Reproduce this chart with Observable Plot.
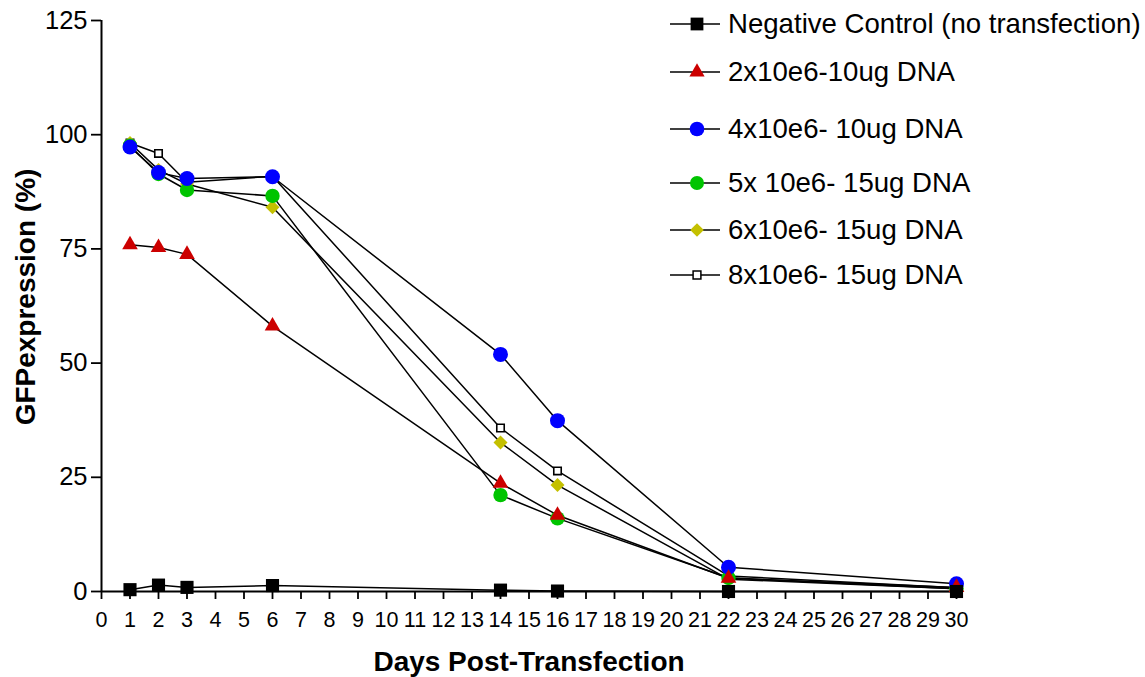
<!DOCTYPE html>
<html>
<head>
<meta charset="utf-8">
<script src="https://cdn.jsdelivr.net/npm/d3@7"></script>
<script src="https://cdn.jsdelivr.net/npm/@observablehq/plot@0.6"></script>
<style>
  html, body { margin: 0; padding: 0; background: #fff; }
  #wrap { position: relative; width: 1145px; height: 677px; font-family: "Liberation Sans", Arial, sans-serif; }
  #legend { position: absolute; left: 668px; top: 0; }
  .row { position: absolute; left: 0; display: flex; align-items: center; white-space: nowrap; }
  .row span { font-size: 27.6px; margin-left: 6px; color: #000; }
</style>
</head>
<body>
<div id="wrap"><div id="legend"></div></div>
<script>
// ---- data ----
const days = [1, 2, 3, 6, 14, 16, 22, 30];
const seriesNames = [
  "Negative Control (no transfection)",
  "2x10e6-10ug DNA",
  "4x10e6- 10ug DNA",
  "5x 10e6- 15ug DNA",
  "6x10e6- 15ug DNA",
  "8x10e6- 15ug DNA"
];
const negControl = [0.4, 1.4, 0.9, 1.3, 0.3, 0.1, 0.0, 0.0];
const dna2x10 = [75.9, 75.3, 73.8, 58.1, 23.7, 16.7, 2.9, 0.9];
const dna4x10 = [97.3, 91.7, 90.4, 90.8, 51.9, 37.4, 5.3, 1.7];
const dna5x15 = [97.6, 91.4, 87.9, 86.6, 21.1, 16.0, 3.0, 0.6];
const dna6x15 = [98.2, 92.3, 89.2, 84.1, 32.6, 23.3, 2.7, 0.6];
const dna8x15 = [98.2, 95.9, 89.6, 90.9, 35.8, 26.4, 3.4, 0.8];
const seriesValues = [negControl, dna2x10, dna4x10, dna5x15, dna6x15, dna8x15];
const xTicks = [0,1,2,3,4,5,6,7,8,9,10,11,12,13,14,15,16,17,18,19,20,21,22,23,24,25,26,27,28,29,30];
const yTicks = [0, 25, 50, 75, 100, 125];

// ---- styles ----
const styles = [
  {symbol: "square",   fill: "#000000", stroke: "none",    r: 7.4},
  {symbol: "triangle", fill: "#cc0000", stroke: "none",    r: 5.8},
  {symbol: "circle",   fill: "#0000ff", stroke: "none",    r: 7.5},
  {symbol: "circle",   fill: "#00c400", stroke: "none",    r: 7.2},
  {symbol: "diamond2", fill: "#c4c000", stroke: "none",    r: 6.3},
  {symbol: "square",   fill: "#ffffff", stroke: "#000000", r: 4.2}
];

const rows = [];
seriesNames.forEach((name, i) => {
  days.forEach((d, j) => rows.push({series: name, idx: i, day: d, value: seriesValues[i][j]}));
});

const font = "Liberation Sans, Arial, sans-serif";
const order = [5, 4, 3, 2, 1, 0]; // drawing order (bottom to top)

const marks = [];
order.forEach(i => {
  const data = rows.filter(r => r.idx === i);
  marks.push(Plot.line(data, {x: "day", y: "value", stroke: "#000", strokeWidth: 1.5}));
});
order.forEach(i => {
  const s = styles[i];
  const data = rows.filter(r => r.idx === i);
  marks.push(Plot.dot(data, {x: "day", y: "value", symbol: () => s.symbol, r: s.r,
    fill: s.fill, stroke: s.stroke, strokeWidth: 1.6}));
});

const chart = Plot.plot({
  width: 1145,
  height: 677,
  marginLeft: 101,
  marginRight: 189,
  marginTop: 20,
  marginBottom: 86,
  style: {fontFamily: font, fontSize: "22px", background: "#fff", color: "#000"},
  x: {domain: [0, 30]},
  y: {domain: [0, 125]},
  symbol: {type: "identity"},
  marks: [
    Plot.axisX({ticks: xTicks, tickSize: 8, tickPadding: 12, fontSize: 21.5, label: null, strokeWidth: 1.8, tickFormat: d => String(d)}),
    Plot.axisY({ticks: yTicks, tickSize: 10, tickPadding: 4, fontSize: 25.5, label: null, strokeWidth: 1.8}),
    Plot.ruleY([0], {x1: 0, x2: 30, stroke: "#000", strokeWidth: 2}),
    Plot.ruleX([0], {y1: 0, y2: 125, stroke: "#000", strokeWidth: 2}),
    ...marks,
    Plot.text(["Days Post-Transfection"], {frameAnchor: "bottom", dy: 79, fontSize: 28, fontWeight: "bold", fill: "#000"}),
    Plot.text(["GFPexpression (%)"], {frameAnchor: "left", textAnchor: "middle", rotate: -90, dx: -75, dy: -9, fontSize: 28, fontWeight: "bold", fill: "#000"})
  ]
});
document.getElementById("wrap").prepend(chart);

// ---- legend ----
const legendRowsY = [24, 72, 129, 183, 230, 275];
const legend = d3.select("#legend");
seriesNames.forEach((name, i) => {
  const s = styles[i];
  const row = legend.append("div").attr("class", "row").style("top", (legendRowsY[i] - 20) + "px").style("height", "40px");
  const svg = row.append("svg").attr("width", 54).attr("height", 40);
  svg.append("line").attr("x1", 2).attr("x2", 52).attr("y1", 20).attr("y2", 20).attr("stroke", "#000").attr("stroke-width", 1.5);
  const symMap = {square: d3.symbolSquare, triangle: d3.symbolTriangle, circle: d3.symbolCircle, diamond2: d3.symbolDiamond2};
  const size = s.r * s.r * Math.PI * (i === 5 ? 1.1 : 0.95);
  svg.append("path").attr("transform", "translate(29,20)")
    .attr("d", d3.symbol(symMap[s.symbol], size)())
    .attr("fill", s.fill).attr("stroke", s.stroke === "none" ? null : s.stroke).attr("stroke-width", 1.5);
  row.append("span").text(name);
});
</script>
</body>
</html>
